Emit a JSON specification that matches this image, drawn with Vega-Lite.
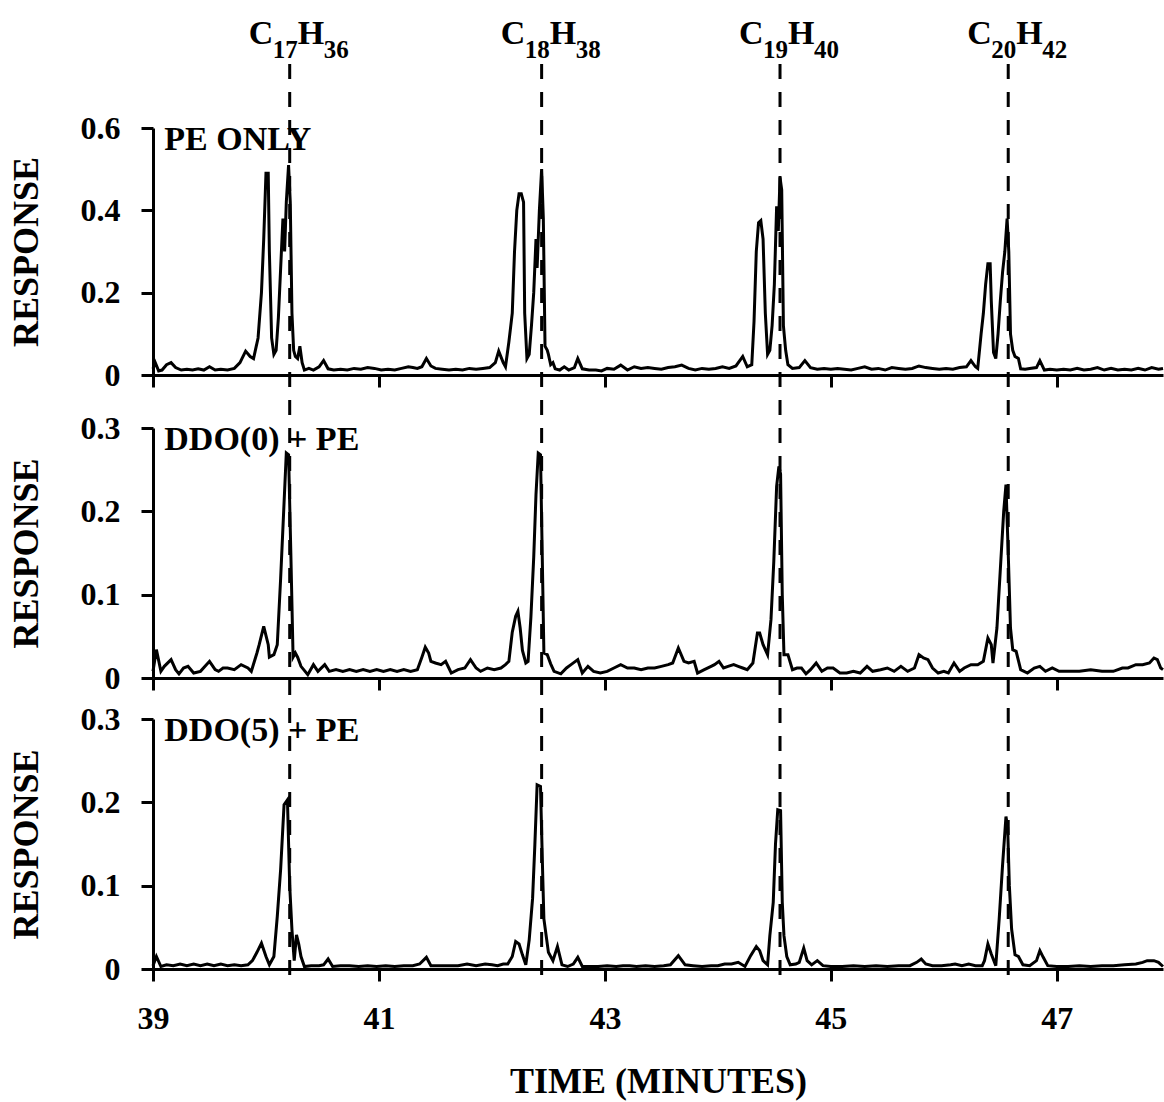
{
"$schema": "https://vega.github.io/schema/vega-lite/v6.json",
"background": "white",
"padding": {"left": 8, "top": 8, "right": 0, "bottom": 5},
"config": {
  "view": {"stroke": null},
  "font": "Liberation Serif",
  "axis": {"domainColor": "black", "domainWidth": 3, "tickColor": "black", "tickWidth": 3, "tickSize": 12, "grid": false,
    "labelFont": "Liberation Serif", "labelFontWeight": "bold", "labelFontSize": 32, "labelColor": "black", "labelFlush": false,
    "titleFont": "Liberation Serif", "titleFontWeight": "bold", "titleFontSize": 36, "titleColor": "black"},
  "axisY": {"labelPadding": 21, "titlePadding": 35},
  "axisX": {"labelPadding": 22, "titlePadding": 30}
},
"datasets": {
  "peaks": [
    {"t": 40.21, "s1": "17", "s2": "36"},
    {"t": 42.44, "s1": "18", "s2": "38"},
    {"t": 44.55, "s1": "19", "s2": "40"},
    {"t": 46.57, "s1": "20", "s2": "42"}
  ],
  "p1": [
    {"t":39.00,"r":0.015},{"t":39.02,"r":0.030},{"t":39.05,"r":0.010},{"t":39.08,"r":0.012},{"t":39.12,"r":0.025},{"t":39.16,"r":0.030},{"t":39.20,"r":0.018},{"t":39.25,"r":0.012},{"t":39.30,"r":0.014},{"t":39.35,"r":0.012},{"t":39.40,"r":0.015},{"t":39.45,"r":0.012},{"t":39.50,"r":0.020},{"t":39.55,"r":0.012},{"t":39.60,"r":0.014},{"t":39.66,"r":0.012},{"t":39.72,"r":0.016},{"t":39.77,"r":0.030},{"t":39.82,"r":0.058},{"t":39.86,"r":0.045},{"t":39.89,"r":0.040},{"t":39.93,"r":0.090},{"t":39.96,"r":0.200},{"t":39.98,"r":0.330},{"t":40.00,"r":0.490},{"t":40.02,"r":0.490},{"t":40.03,"r":0.300},{"t":40.05,"r":0.090},{"t":40.07,"r":0.050},{"t":40.09,"r":0.060},{"t":40.11,"r":0.140},{"t":40.13,"r":0.260},{"t":40.15,"r":0.380},{"t":40.165,"r":0.300},{"t":40.18,"r":0.420},{"t":40.20,"r":0.510},{"t":40.215,"r":0.420},{"t":40.23,"r":0.150},{"t":40.245,"r":0.060},{"t":40.26,"r":0.045},{"t":40.28,"r":0.040},{"t":40.30,"r":0.070},{"t":40.32,"r":0.030},{"t":40.34,"r":0.012},{"t":40.38,"r":0.016},{"t":40.42,"r":0.012},{"t":40.47,"r":0.020},{"t":40.51,"r":0.035},{"t":40.55,"r":0.015},{"t":40.60,"r":0.012},{"t":40.66,"r":0.014},{"t":40.72,"r":0.012},{"t":40.78,"r":0.016},{"t":40.84,"r":0.014},{"t":40.90,"r":0.018},{"t":40.96,"r":0.016},{"t":41.02,"r":0.012},{"t":41.08,"r":0.014},{"t":41.14,"r":0.012},{"t":41.20,"r":0.016},{"t":41.26,"r":0.020},{"t":41.30,"r":0.018},{"t":41.34,"r":0.016},{"t":41.38,"r":0.020},{"t":41.42,"r":0.040},{"t":41.46,"r":0.022},{"t":41.50,"r":0.016},{"t":41.56,"r":0.014},{"t":41.62,"r":0.012},{"t":41.68,"r":0.014},{"t":41.74,"r":0.012},{"t":41.80,"r":0.016},{"t":41.86,"r":0.014},{"t":41.92,"r":0.016},{"t":41.98,"r":0.018},{"t":42.03,"r":0.030},{"t":42.06,"r":0.058},{"t":42.10,"r":0.030},{"t":42.12,"r":0.020},{"t":42.15,"r":0.080},{"t":42.18,"r":0.150},{"t":42.20,"r":0.300},{"t":42.22,"r":0.400},{"t":42.24,"r":0.440},{"t":42.26,"r":0.440},{"t":42.28,"r":0.420},{"t":42.29,"r":0.150},{"t":42.31,"r":0.040},{"t":42.33,"r":0.050},{"t":42.35,"r":0.120},{"t":42.37,"r":0.200},{"t":42.39,"r":0.330},{"t":42.40,"r":0.260},{"t":42.42,"r":0.400},{"t":42.44,"r":0.500},{"t":42.455,"r":0.380},{"t":42.47,"r":0.070},{"t":42.49,"r":0.060},{"t":42.50,"r":0.050},{"t":42.52,"r":0.025},{"t":42.54,"r":0.030},{"t":42.56,"r":0.015},{"t":42.60,"r":0.012},{"t":42.64,"r":0.020},{"t":42.68,"r":0.012},{"t":42.73,"r":0.018},{"t":42.76,"r":0.040},{"t":42.80,"r":0.015},{"t":42.86,"r":0.012},{"t":42.92,"r":0.012},{"t":42.97,"r":0.010},{"t":43.02,"r":0.016},{"t":43.08,"r":0.014},{"t":43.14,"r":0.024},{"t":43.20,"r":0.012},{"t":43.26,"r":0.020},{"t":43.32,"r":0.016},{"t":43.38,"r":0.018},{"t":43.44,"r":0.016},{"t":43.50,"r":0.014},{"t":43.56,"r":0.018},{"t":43.62,"r":0.020},{"t":43.68,"r":0.024},{"t":43.74,"r":0.016},{"t":43.80,"r":0.012},{"t":43.86,"r":0.016},{"t":43.92,"r":0.014},{"t":43.98,"r":0.016},{"t":44.04,"r":0.020},{"t":44.10,"r":0.016},{"t":44.16,"r":0.022},{"t":44.22,"r":0.045},{"t":44.26,"r":0.020},{"t":44.30,"r":0.025},{"t":44.32,"r":0.130},{"t":44.34,"r":0.300},{"t":44.36,"r":0.370},{"t":44.38,"r":0.375},{"t":44.40,"r":0.330},{"t":44.42,"r":0.150},{"t":44.44,"r":0.050},{"t":44.46,"r":0.060},{"t":44.48,"r":0.120},{"t":44.50,"r":0.220},{"t":44.52,"r":0.410},{"t":44.535,"r":0.350},{"t":44.55,"r":0.480},{"t":44.565,"r":0.450},{"t":44.58,"r":0.120},{"t":44.60,"r":0.060},{"t":44.62,"r":0.025},{"t":44.66,"r":0.016},{"t":44.72,"r":0.018},{"t":44.77,"r":0.035},{"t":44.82,"r":0.018},{"t":44.88,"r":0.014},{"t":44.94,"r":0.016},{"t":45.00,"r":0.014},{"t":45.06,"r":0.016},{"t":45.12,"r":0.014},{"t":45.18,"r":0.012},{"t":45.24,"r":0.016},{"t":45.30,"r":0.020},{"t":45.36,"r":0.014},{"t":45.42,"r":0.016},{"t":45.48,"r":0.012},{"t":45.54,"r":0.018},{"t":45.60,"r":0.016},{"t":45.66,"r":0.014},{"t":45.72,"r":0.016},{"t":45.78,"r":0.022},{"t":45.84,"r":0.018},{"t":45.90,"r":0.016},{"t":45.96,"r":0.014},{"t":46.02,"r":0.016},{"t":46.08,"r":0.014},{"t":46.14,"r":0.018},{"t":46.20,"r":0.020},{"t":46.24,"r":0.035},{"t":46.28,"r":0.020},{"t":46.30,"r":0.016},{"t":46.33,"r":0.100},{"t":46.35,"r":0.150},{"t":46.37,"r":0.220},{"t":46.39,"r":0.270},{"t":46.41,"r":0.270},{"t":46.42,"r":0.180},{"t":46.44,"r":0.055},{"t":46.46,"r":0.040},{"t":46.48,"r":0.100},{"t":46.50,"r":0.180},{"t":46.52,"r":0.250},{"t":46.54,"r":0.300},{"t":46.56,"r":0.380},{"t":46.575,"r":0.300},{"t":46.59,"r":0.100},{"t":46.61,"r":0.060},{"t":46.63,"r":0.045},{"t":46.66,"r":0.040},{"t":46.68,"r":0.015},{"t":46.72,"r":0.014},{"t":46.76,"r":0.016},{"t":46.82,"r":0.018},{"t":46.85,"r":0.035},{"t":46.89,"r":0.012},{"t":46.94,"r":0.014},{"t":47.00,"r":0.012},{"t":47.06,"r":0.014},{"t":47.12,"r":0.012},{"t":47.18,"r":0.016},{"t":47.24,"r":0.012},{"t":47.30,"r":0.014},{"t":47.36,"r":0.018},{"t":47.42,"r":0.012},{"t":47.48,"r":0.016},{"t":47.54,"r":0.012},{"t":47.60,"r":0.014},{"t":47.66,"r":0.012},{"t":47.72,"r":0.016},{"t":47.78,"r":0.012},{"t":47.84,"r":0.018},{"t":47.90,"r":0.014},{"t":47.94,"r":0.016}
  ],
  "p2": [
    {"t":39.00,"r":0.008},{"t":39.03,"r":0.034},{"t":39.07,"r":0.008},{"t":39.10,"r":0.014},{"t":39.16,"r":0.022},{"t":39.20,"r":0.010},{"t":39.23,"r":0.005},{"t":39.27,"r":0.012},{"t":39.31,"r":0.014},{"t":39.36,"r":0.006},{"t":39.42,"r":0.008},{"t":39.50,"r":0.020},{"t":39.55,"r":0.010},{"t":39.58,"r":0.008},{"t":39.62,"r":0.012},{"t":39.66,"r":0.012},{"t":39.72,"r":0.010},{"t":39.78,"r":0.016},{"t":39.84,"r":0.012},{"t":39.87,"r":0.008},{"t":39.92,"r":0.030},{"t":39.94,"r":0.040},{"t":39.98,"r":0.062},{"t":40.02,"r":0.040},{"t":40.03,"r":0.025},{"t":40.07,"r":0.028},{"t":40.10,"r":0.040},{"t":40.13,"r":0.120},{"t":40.16,"r":0.210},{"t":40.18,"r":0.270},{"t":40.20,"r":0.268},{"t":40.22,"r":0.150},{"t":40.24,"r":0.025},{"t":40.26,"r":0.030},{"t":40.28,"r":0.025},{"t":40.31,"r":0.014},{"t":40.37,"r":0.004},{"t":40.42,"r":0.016},{"t":40.46,"r":0.008},{"t":40.52,"r":0.016},{"t":40.56,"r":0.008},{"t":40.62,"r":0.010},{"t":40.68,"r":0.008},{"t":40.74,"r":0.010},{"t":40.80,"r":0.008},{"t":40.86,"r":0.010},{"t":40.92,"r":0.008},{"t":40.98,"r":0.010},{"t":41.04,"r":0.008},{"t":41.10,"r":0.010},{"t":41.16,"r":0.008},{"t":41.22,"r":0.010},{"t":41.28,"r":0.008},{"t":41.34,"r":0.010},{"t":41.38,"r":0.025},{"t":41.41,"r":0.037},{"t":41.44,"r":0.030},{"t":41.46,"r":0.020},{"t":41.50,"r":0.018},{"t":41.55,"r":0.016},{"t":41.59,"r":0.020},{"t":41.64,"r":0.006},{"t":41.70,"r":0.010},{"t":41.76,"r":0.012},{"t":41.81,"r":0.022},{"t":41.86,"r":0.012},{"t":41.90,"r":0.008},{"t":41.96,"r":0.012},{"t":42.02,"r":0.010},{"t":42.08,"r":0.012},{"t":42.12,"r":0.016},{"t":42.15,"r":0.020},{"t":42.18,"r":0.055},{"t":42.21,"r":0.074},{"t":42.23,"r":0.080},{"t":42.25,"r":0.060},{"t":42.27,"r":0.033},{"t":42.30,"r":0.018},{"t":42.32,"r":0.020},{"t":42.345,"r":0.073},{"t":42.37,"r":0.145},{"t":42.39,"r":0.220},{"t":42.41,"r":0.270},{"t":42.43,"r":0.268},{"t":42.445,"r":0.150},{"t":42.46,"r":0.030},{"t":42.49,"r":0.028},{"t":42.52,"r":0.017},{"t":42.55,"r":0.008},{"t":42.61,"r":0.005},{"t":42.66,"r":0.012},{"t":42.70,"r":0.016},{"t":42.76,"r":0.022},{"t":42.80,"r":0.006},{"t":42.85,"r":0.014},{"t":42.90,"r":0.008},{"t":42.96,"r":0.006},{"t":43.02,"r":0.008},{"t":43.08,"r":0.012},{"t":43.14,"r":0.016},{"t":43.20,"r":0.012},{"t":43.26,"r":0.012},{"t":43.32,"r":0.010},{"t":43.38,"r":0.012},{"t":43.44,"r":0.012},{"t":43.50,"r":0.014},{"t":43.56,"r":0.016},{"t":43.60,"r":0.018},{"t":43.65,"r":0.036},{"t":43.70,"r":0.020},{"t":43.74,"r":0.018},{"t":43.79,"r":0.020},{"t":43.82,"r":0.006},{"t":43.88,"r":0.010},{"t":43.94,"r":0.014},{"t":43.97,"r":0.016},{"t":44.01,"r":0.020},{"t":44.05,"r":0.012},{"t":44.09,"r":0.014},{"t":44.14,"r":0.016},{"t":44.18,"r":0.014},{"t":44.22,"r":0.012},{"t":44.26,"r":0.010},{"t":44.31,"r":0.018},{"t":44.35,"r":0.054},{"t":44.37,"r":0.054},{"t":44.40,"r":0.040},{"t":44.44,"r":0.028},{"t":44.47,"r":0.070},{"t":44.495,"r":0.140},{"t":44.52,"r":0.230},{"t":44.54,"r":0.254},{"t":44.555,"r":0.245},{"t":44.57,"r":0.100},{"t":44.585,"r":0.028},{"t":44.62,"r":0.028},{"t":44.66,"r":0.010},{"t":44.70,"r":0.012},{"t":44.74,"r":0.012},{"t":44.78,"r":0.005},{"t":44.82,"r":0.010},{"t":44.87,"r":0.018},{"t":44.92,"r":0.008},{"t":44.97,"r":0.012},{"t":45.02,"r":0.012},{"t":45.08,"r":0.006},{"t":45.14,"r":0.006},{"t":45.20,"r":0.008},{"t":45.26,"r":0.006},{"t":45.32,"r":0.014},{"t":45.37,"r":0.008},{"t":45.44,"r":0.010},{"t":45.50,"r":0.012},{"t":45.56,"r":0.008},{"t":45.62,"r":0.014},{"t":45.68,"r":0.008},{"t":45.74,"r":0.012},{"t":45.78,"r":0.028},{"t":45.82,"r":0.024},{"t":45.86,"r":0.022},{"t":45.90,"r":0.012},{"t":45.95,"r":0.006},{"t":46.00,"r":0.008},{"t":46.04,"r":0.006},{"t":46.09,"r":0.018},{"t":46.14,"r":0.008},{"t":46.18,"r":0.012},{"t":46.24,"r":0.016},{"t":46.30,"r":0.016},{"t":46.35,"r":0.020},{"t":46.39,"r":0.048},{"t":46.42,"r":0.040},{"t":46.435,"r":0.018},{"t":46.47,"r":0.060},{"t":46.50,"r":0.130},{"t":46.53,"r":0.200},{"t":46.55,"r":0.232},{"t":46.57,"r":0.150},{"t":46.59,"r":0.060},{"t":46.61,"r":0.034},{"t":46.64,"r":0.032},{"t":46.68,"r":0.010},{"t":46.74,"r":0.006},{"t":46.80,"r":0.012},{"t":46.85,"r":0.014},{"t":46.90,"r":0.008},{"t":46.96,"r":0.012},{"t":47.02,"r":0.008},{"t":47.10,"r":0.008},{"t":47.20,"r":0.008},{"t":47.30,"r":0.010},{"t":47.40,"r":0.008},{"t":47.50,"r":0.008},{"t":47.58,"r":0.012},{"t":47.63,"r":0.012},{"t":47.70,"r":0.016},{"t":47.76,"r":0.016},{"t":47.82,"r":0.018},{"t":47.86,"r":0.024},{"t":47.89,"r":0.022},{"t":47.92,"r":0.012},{"t":47.94,"r":0.010}
  ],
  "p3": [
    {"t":39.00,"r":0.004},{"t":39.03,"r":0.015},{"t":39.07,"r":0.003},{"t":39.12,"r":0.005},{"t":39.18,"r":0.004},{"t":39.24,"r":0.006},{"t":39.30,"r":0.004},{"t":39.36,"r":0.006},{"t":39.42,"r":0.004},{"t":39.48,"r":0.006},{"t":39.54,"r":0.004},{"t":39.60,"r":0.006},{"t":39.66,"r":0.004},{"t":39.72,"r":0.005},{"t":39.78,"r":0.004},{"t":39.84,"r":0.005},{"t":39.88,"r":0.010},{"t":39.92,"r":0.020},{"t":39.96,"r":0.031},{"t":40.00,"r":0.015},{"t":40.03,"r":0.005},{"t":40.07,"r":0.015},{"t":40.10,"r":0.063},{"t":40.13,"r":0.120},{"t":40.16,"r":0.197},{"t":40.19,"r":0.203},{"t":40.21,"r":0.100},{"t":40.23,"r":0.047},{"t":40.25,"r":0.010},{"t":40.27,"r":0.041},{"t":40.29,"r":0.030},{"t":40.31,"r":0.015},{"t":40.34,"r":0.003},{"t":40.40,"r":0.004},{"t":40.47,"r":0.004},{"t":40.51,"r":0.005},{"t":40.55,"r":0.012},{"t":40.59,"r":0.003},{"t":40.66,"r":0.004},{"t":40.74,"r":0.004},{"t":40.82,"r":0.003},{"t":40.90,"r":0.004},{"t":40.98,"r":0.003},{"t":41.06,"r":0.004},{"t":41.14,"r":0.003},{"t":41.22,"r":0.004},{"t":41.30,"r":0.004},{"t":41.36,"r":0.006},{"t":41.42,"r":0.014},{"t":41.46,"r":0.004},{"t":41.54,"r":0.004},{"t":41.62,"r":0.004},{"t":41.70,"r":0.004},{"t":41.78,"r":0.006},{"t":41.86,"r":0.004},{"t":41.94,"r":0.006},{"t":42.00,"r":0.005},{"t":42.05,"r":0.004},{"t":42.10,"r":0.006},{"t":42.14,"r":0.006},{"t":42.18,"r":0.015},{"t":42.21,"r":0.033},{"t":42.24,"r":0.030},{"t":42.27,"r":0.017},{"t":42.30,"r":0.005},{"t":42.33,"r":0.035},{"t":42.36,"r":0.085},{"t":42.38,"r":0.149},{"t":42.40,"r":0.221},{"t":42.43,"r":0.219},{"t":42.45,"r":0.110},{"t":42.46,"r":0.060},{"t":42.50,"r":0.020},{"t":42.54,"r":0.010},{"t":42.58,"r":0.027},{"t":42.62,"r":0.005},{"t":42.67,"r":0.003},{"t":42.72,"r":0.006},{"t":42.76,"r":0.014},{"t":42.80,"r":0.003},{"t":42.86,"r":0.003},{"t":42.94,"r":0.003},{"t":43.02,"r":0.004},{"t":43.10,"r":0.003},{"t":43.16,"r":0.004},{"t":43.22,"r":0.004},{"t":43.28,"r":0.003},{"t":43.36,"r":0.004},{"t":43.44,"r":0.003},{"t":43.52,"r":0.004},{"t":43.58,"r":0.005},{"t":43.65,"r":0.016},{"t":43.71,"r":0.005},{"t":43.78,"r":0.004},{"t":43.86,"r":0.003},{"t":43.94,"r":0.004},{"t":44.00,"r":0.004},{"t":44.06,"r":0.006},{"t":44.12,"r":0.006},{"t":44.18,"r":0.008},{"t":44.24,"r":0.003},{"t":44.29,"r":0.016},{"t":44.34,"r":0.027},{"t":44.37,"r":0.022},{"t":44.40,"r":0.010},{"t":44.44,"r":0.005},{"t":44.46,"r":0.040},{"t":44.49,"r":0.080},{"t":44.51,"r":0.150},{"t":44.53,"r":0.191},{"t":44.555,"r":0.190},{"t":44.57,"r":0.080},{"t":44.585,"r":0.040},{"t":44.61,"r":0.015},{"t":44.64,"r":0.005},{"t":44.69,"r":0.006},{"t":44.72,"r":0.008},{"t":44.76,"r":0.025},{"t":44.79,"r":0.010},{"t":44.83,"r":0.005},{"t":44.88,"r":0.010},{"t":44.93,"r":0.004},{"t":45.00,"r":0.003},{"t":45.10,"r":0.003},{"t":45.20,"r":0.004},{"t":45.30,"r":0.003},{"t":45.40,"r":0.004},{"t":45.50,"r":0.003},{"t":45.60,"r":0.004},{"t":45.70,"r":0.004},{"t":45.76,"r":0.008},{"t":45.80,"r":0.012},{"t":45.84,"r":0.006},{"t":45.90,"r":0.004},{"t":45.98,"r":0.004},{"t":46.06,"r":0.005},{"t":46.10,"r":0.006},{"t":46.16,"r":0.004},{"t":46.22,"r":0.006},{"t":46.28,"r":0.004},{"t":46.34,"r":0.004},{"t":46.36,"r":0.010},{"t":46.39,"r":0.030},{"t":46.42,"r":0.018},{"t":46.46,"r":0.004},{"t":46.49,"r":0.060},{"t":46.52,"r":0.125},{"t":46.55,"r":0.183},{"t":46.565,"r":0.170},{"t":46.58,"r":0.100},{"t":46.60,"r":0.048},{"t":46.63,"r":0.017},{"t":46.66,"r":0.015},{"t":46.70,"r":0.005},{"t":46.76,"r":0.004},{"t":46.82,"r":0.010},{"t":46.85,"r":0.022},{"t":46.88,"r":0.014},{"t":46.92,"r":0.004},{"t":47.00,"r":0.003},{"t":47.10,"r":0.003},{"t":47.20,"r":0.004},{"t":47.30,"r":0.003},{"t":47.40,"r":0.004},{"t":47.50,"r":0.004},{"t":47.60,"r":0.005},{"t":47.70,"r":0.006},{"t":47.76,"r":0.008},{"t":47.80,"r":0.010},{"t":47.86,"r":0.010},{"t":47.90,"r":0.008},{"t":47.94,"r":0.003}
  ]
},
"spacing": 0,
"bounds": "flush",
"vconcat": [
  {
    "width": 1010, "height": 120,
    "data": {"name": "peaks"},
    "encoding": {"x": {"field": "t", "type": "quantitative", "scale": {"domain": [39, 47.94], "nice": false, "zero": false}, "axis": null}},
    "layer": [
      {"mark": {"type": "rule", "strokeDash": [15, 13], "strokeWidth": 3, "color": "black"},
       "encoding": {"y": {"datum": 0.533, "type": "quantitative", "scale": {"domain": [0, 1], "nice": false}, "axis": null}, "y2": {"datum": -7.075}}},
      {"mark": {"type": "text", "text": "C", "align": "left", "baseline": "alphabetic", "dx": -41, "fontSize": 34, "fontWeight": "bold", "font": "Liberation Serif", "color": "black"},
       "encoding": {"y": {"datum": 0.7, "type": "quantitative"}}},
      {"mark": {"type": "text", "align": "left", "baseline": "alphabetic", "dx": -17, "fontSize": 25, "fontWeight": "bold", "font": "Liberation Serif", "color": "black"},
       "encoding": {"y": {"datum": 0.583, "type": "quantitative"}, "text": {"field": "s1"}}},
      {"mark": {"type": "text", "text": "H", "align": "left", "baseline": "alphabetic", "dx": 8, "fontSize": 34, "fontWeight": "bold", "font": "Liberation Serif", "color": "black"},
       "encoding": {"y": {"datum": 0.7, "type": "quantitative"}}},
      {"mark": {"type": "text", "align": "left", "baseline": "alphabetic", "dx": 34, "fontSize": 25, "fontWeight": "bold", "font": "Liberation Serif", "color": "black"},
       "encoding": {"y": {"datum": 0.583, "type": "quantitative"}, "text": {"field": "s2"}}}
    ]
  },
  {
    "spacing": 53,
    "bounds": "flush",
    "vconcat": [
      {
        "width": 1010, "height": 247,
        "layer": [
          {"data": {"name": "p1"},
           "mark": {"type": "line", "color": "black", "strokeWidth": 3},
           "encoding": {
             "x": {"field": "t", "type": "quantitative", "scale": {"domain": [39, 47.94], "nice": false, "zero": false}, "axis": {"values": [39, 41, 43, 45, 47], "labels": false, "title": null}},
             "y": {"field": "r", "type": "quantitative", "scale": {"domain": [0, 0.6], "nice": false}, "axis": {"values": [0, 0.2, 0.4, 0.6], "format": "~g", "title": "RESPONSE"}}}},
          {"data": {"values": [{"label": "PE ONLY"}]},
           "mark": {"type": "text", "align": "left", "baseline": "alphabetic", "fontSize": 34, "fontWeight": "bold", "font": "Liberation Serif", "color": "black"},
           "encoding": {"x": {"datum": 39.1, "type": "quantitative"}, "y": {"datum": 0.547, "type": "quantitative"}, "text": {"field": "label"}}}
        ]
      },
      {
        "spacing": 41,
        "bounds": "flush",
        "vconcat": [
          {
            "width": 1010, "height": 250,
            "layer": [
              {"data": {"name": "p2"},
               "mark": {"type": "line", "color": "black", "strokeWidth": 3},
               "encoding": {
                 "x": {"field": "t", "type": "quantitative", "scale": {"domain": [39, 47.94], "nice": false, "zero": false}, "axis": {"values": [39, 41, 43, 45, 47], "labels": false, "title": null}},
                 "y": {"field": "r", "type": "quantitative", "scale": {"domain": [0, 0.3], "nice": false}, "axis": {"values": [0, 0.1, 0.2, 0.3], "format": "~g", "title": "RESPONSE"}}}},
              {"data": {"values": [{"label": "DDO(0) + PE"}]},
               "mark": {"type": "text", "align": "left", "baseline": "alphabetic", "fontSize": 34, "fontWeight": "bold", "font": "Liberation Serif", "color": "black"},
               "encoding": {"x": {"datum": 39.1, "type": "quantitative"}, "y": {"datum": 0.2736, "type": "quantitative"}, "text": {"field": "label"}}}
            ]
          },
          {
            "width": 1010, "height": 250,
            "layer": [
              {"data": {"name": "p3"},
               "mark": {"type": "line", "color": "black", "strokeWidth": 3},
               "encoding": {
                 "x": {"field": "t", "type": "quantitative", "scale": {"domain": [39, 47.94], "nice": false, "zero": false}, "axis": {"values": [39, 41, 43, 45, 47], "format": "d", "title": "TIME (MINUTES)"}},
                 "y": {"field": "r", "type": "quantitative", "scale": {"domain": [0, 0.3], "nice": false}, "axis": {"values": [0, 0.1, 0.2, 0.3], "format": "~g", "title": "RESPONSE"}}}},
              {"data": {"values": [{"label": "DDO(5) + PE"}]},
               "mark": {"type": "text", "align": "left", "baseline": "alphabetic", "fontSize": 34, "fontWeight": "bold", "font": "Liberation Serif", "color": "black"},
               "encoding": {"x": {"datum": 39.1, "type": "quantitative"}, "y": {"datum": 0.2736, "type": "quantitative"}, "text": {"field": "label"}}}
            ]
          }
        ]
      }
    ]
  }
]
}
